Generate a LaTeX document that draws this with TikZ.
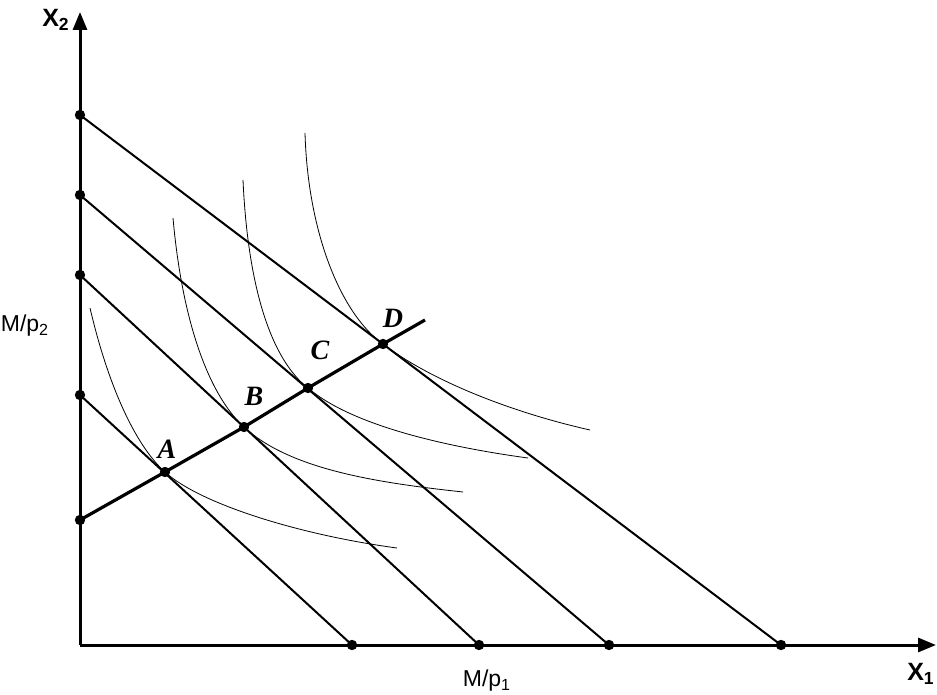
\documentclass[tikz,border=0pt]{standalone}
\usepackage{fontspec}
\setmainfont{Liberation Serif}
\setsansfont{Liberation Sans}
\usetikzlibrary{arrows.meta}

\tikzset{
  axis/.style={line width=1.5pt, -{Triangle[length=9pt, width=7pt]}},
  budget/.style={line width=1pt},
  icc/.style={line width=0.4pt},
  expansion/.style={line width=1.6pt},
  dot/.style={circle, fill=black, inner sep=0pt, minimum size=5.2pt},
  ptlabel/.style={font=\fontsize{14}{16}\selectfont\bfseries\itshape},
  axlabel/.style={font=\sffamily\fontsize{11.5}{13}\selectfont},
  axname/.style={font=\sffamily\bfseries\fontsize{12.5}{14}\selectfont}
}

\begin{document}
\begin{tikzpicture}[x=0.5pt, y=-0.5pt]

	\useasboundingbox (0, 0) rectangle (937, 695);

	% axes
	\coordinate (O) at (80, 645);
	\coordinate (ytop) at (80, 12);
	\coordinate (xend) at (936, 645);
	\draw[axis] (O) -- (ytop);
	\draw[axis] (O) -- (xend);

	% intercepts
	\node[dot] (y1) at (80, 395) {};
	\node[dot] (y2) at (80, 275) {};
	\node[dot] (y3) at (80, 195) {};
	\node[dot] (y4) at (80, 115) {};
	\node[dot] (y0) at (80, 520) {};
	\node[dot] (x1) at (352, 645) {};
	\node[dot] (x2) at (479, 645) {};
	\node[dot] (x3) at (609, 645) {};
	\node[dot] (x4) at (781, 645) {};

	% budget lines
	\draw[budget] (y1.center) -- (x1.center);
	\draw[budget] (y2.center) -- (x2.center);
	\draw[budget] (y3.center) -- (x3.center);
	\draw[budget] (y4.center) -- (x4.center);

	% optimum points
	\node[dot] (A) at (165, 472) {};
	\node[dot] (B) at (244, 427) {};
	\node[dot] (C) at (308, 388) {};
	\node[dot] (D) at (383, 344) {};
	\coordinate (pathend) at (425, 320);

	% indifference curves
	\draw[icc] (90, 308) .. controls (108, 385) and (135, 445) .. (A.center)
		.. controls (200, 504) and (300, 535) .. (397, 548);
	\draw[icc] (173, 218) .. controls (183, 330) and (212, 398) .. (B.center)
		.. controls (290, 470) and (380, 483) .. (463, 492);
	\draw[icc] (243, 180) .. controls (248, 290) and (272, 360) .. (C.center)
		.. controls (350, 424) and (440, 446) .. (528, 458);
	\draw[icc] (305, 133) .. controls (308, 235) and (342, 315) .. (D.center)
		.. controls (430, 380) and (510, 412) .. (590, 430);

	% income expansion path
	\draw[expansion] (y0.center) -- (A.center) -- (B.center) -- (C.center) -- (D.center) -- (pathend);

	% labels
	\node[ptlabel] (lA) at (167, 449) {A};
	\node[ptlabel] (lB) at (254, 396) {B};
	\node[ptlabel] (lC) at (320, 350) {C};
	\node[ptlabel] (lD) at (393, 318) {D};
	\node[axname] (lx2) at (56, 20) {X\textsubscript{2}};
	\node[axname] (lx1) at (921, 674) {X\textsubscript{1}};
	\node[axlabel] (lmp2) at (25, 326) {M/p\textsubscript{2}};
	\node[axlabel] (lmp1) at (487, 681) {M/p\textsubscript{1}};

\end{tikzpicture}
\end{document}
